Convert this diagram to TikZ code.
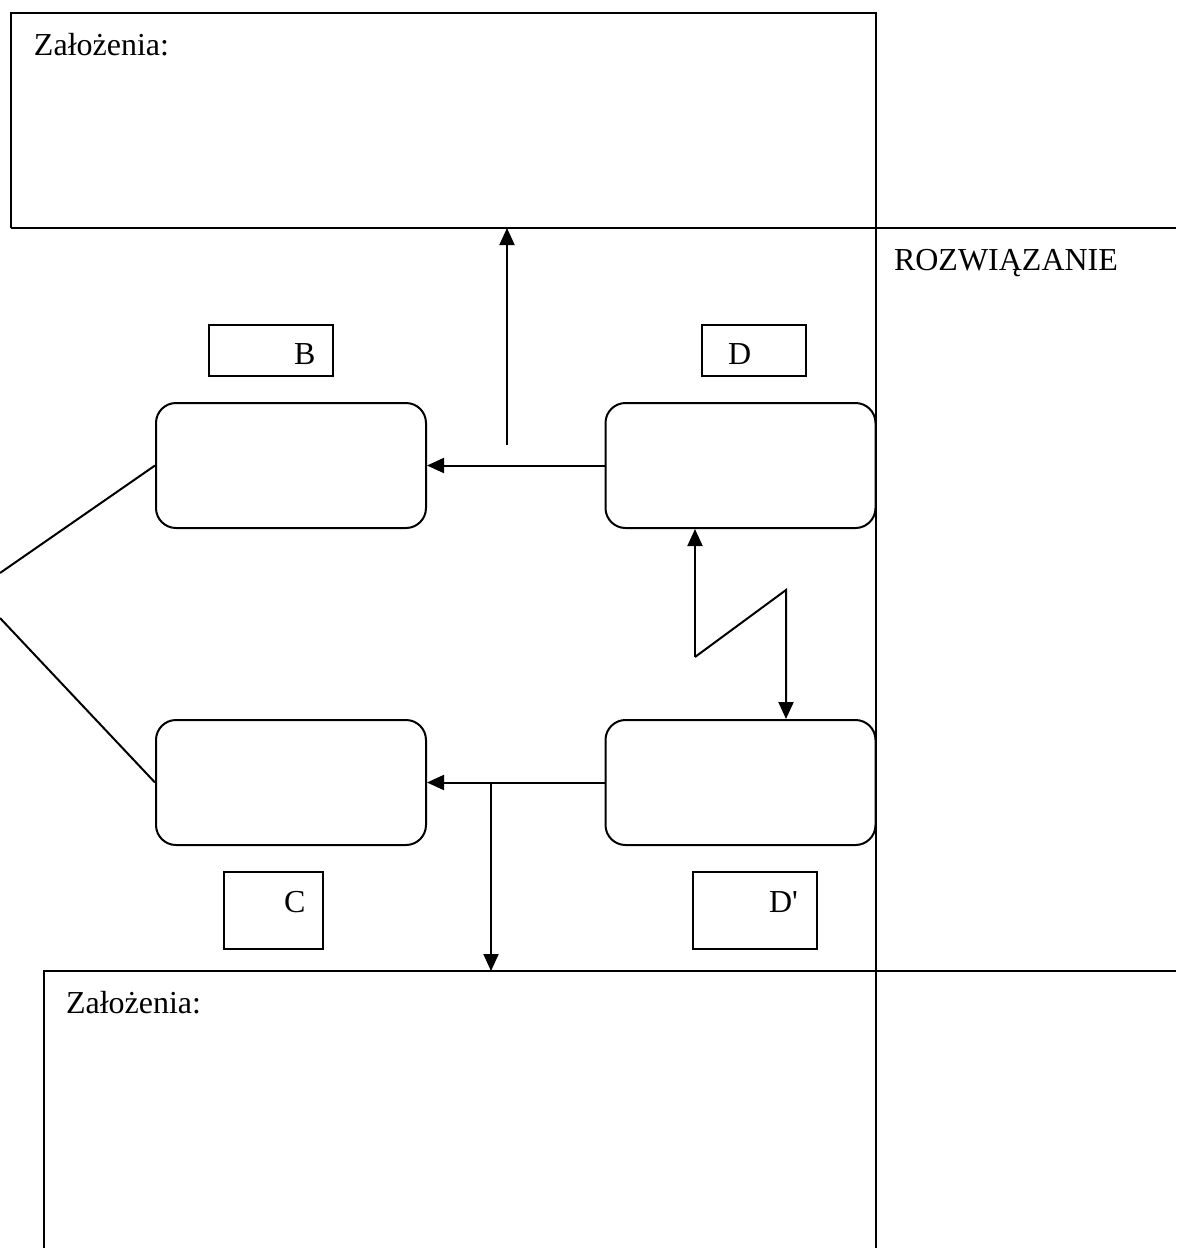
\documentclass[tikz,border=0pt]{standalone}
\usepackage{fontspec}
\setmainfont{Liberation Serif}
\usetikzlibrary{arrows.meta}
\begin{document}
\begin{tikzpicture}[x=1pt,y=-1pt,line width=2pt,
  rbox/.style={draw,rounded corners=20pt,minimum width=270pt,minimum height=125pt,inner sep=0pt},
  lbox/.style={draw,inner sep=0pt},
  lbl/.style={font=\fontsize{32}{38}\selectfont,inner sep=0pt,anchor=base west},
  arr/.style={-{Triangle[length=17pt,width=15pt]}}]
\useasboundingbox (0,0) rectangle (1176,1248);
% frames
\coordinate (tl0) at (11,13);
\coordinate (tr0) at (876,13);
\coordinate (bl0) at (11,228);
\coordinate (re0) at (1176,228);
\coordinate (vb) at (876,1248);
\coordinate (b1) at (44,1248);
\coordinate (b2) at (44,971);
\coordinate (b3) at (1176,971);
\draw (bl0) -- (tl0) -- (tr0) -- (vb);
\draw (bl0) -- (re0);
\draw (b1) -- (b2) -- (b3);
% texts
\node[lbl] (zal1) at (33,55) {Założenia:};
\node[lbl] (roz) at (893,270) {ROZWIĄZANIE};
\node[lbl] (zal2) at (65,1013) {Założenia:};
% label boxes
\node[lbox,minimum width=124pt,minimum height=51pt] (Bb) at (271,350.5) {};
\node[lbl] (Bt) at (293,364) {B};
\node[lbox,minimum width=104pt,minimum height=51pt] (Db) at (754,350.5) {};
\node[lbl] (Dt) at (727,364) {D};
\node[lbox,minimum width=99pt,minimum height=77pt] (Cb) at (273.5,910.5) {};
\node[lbl] (Ct) at (283,912) {C};
\node[lbox,minimum width=124pt,minimum height=77pt] (Db2) at (755,910.5) {};
\node[lbl] (D2t) at (768,912) {D\textquotesingle};
% rounded boxes
\node[rbox] (tlb) at (291,465.5) {};
\node[rbox] (trb) at (740.5,465.5) {};
\node[rbox] (blb) at (291,782.5) {};
\node[rbox] (brb) at (740.5,782.5) {};
% side lines
\coordinate (l1) at (0,573);
\coordinate (l2) at (0,618);
\draw (tlb.west) -- (l1);
\draw (blb.west) -- (l2);
% arrows top
\draw[arr] (trb.west) -- (tlb.east);
\coordinate (up1) at (507,445);
\coordinate (up2) at (507,228);
\draw[arr] (up1) -- (up2);
% zigzag
\coordinate (z1) at (695,657);
\coordinate (z2) at (786,590);
\draw[arr] (z1) -- (z1 |- trb.south);
\draw[arr] (z1) -- (z2) -- (z2 |- brb.north);
% arrows bottom
\draw[arr] (brb.west) -- (blb.east);
\coordinate (dn1) at (491,782.5);
\coordinate (dn2) at (491,971);
\draw[arr] (dn1) -- (dn2);
\end{tikzpicture}
\end{document}
